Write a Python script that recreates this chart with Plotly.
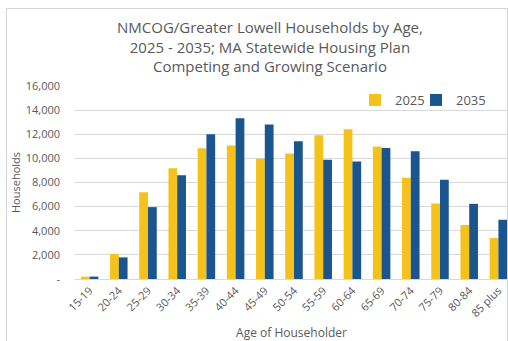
import plotly.graph_objects as go

# Age-of-householder groups and household counts per scenario year
age_groups = ["15-19", "20-24", "25-29", "30-34", "35-39", "40-44", "45-49",
              "50-54", "55-59", "60-64", "65-69", "70-74", "75-79", "80-84", "85 plus"]
households_2025 = [190, 2070, 7200, 9190, 10840, 11060, 9960,
                   10400, 11920, 12420, 10980, 8390, 6260, 4470, 3390]
households_2035 = [200, 1790, 5960, 8610, 12000, 13330, 12800,
                   11420, 9880, 9740, 10870, 10600, 8220, 6230, 4910]

y_tick_vals = [0, 2000, 4000, 6000, 8000, 10000, 12000, 14000, 16000]
y_tick_text = ["-", "2,000", "4,000", "6,000", "8,000", "10,000", "12,000", "14,000", "16,000"]

YELLOW = "#F5C21B"
BLUE = "#1A5590"
GRAY_TEXT = "#595959"
GRID = "#D9D9D9"
FONT = "Open Sans"

W, H = 508, 341
L, R, T, B = 75, 0, 86, 62
plot_w = W - L - R
plot_h = H - T - B


def px_x(x):
    return (x - L) / plot_w


def px_y(y):
    return (H - B - y) / plot_h


def legend_box(left_px):
    return dict(
        orientation="h", x=px_x(left_px), xanchor="left", y=px_y(100), yanchor="middle",
        font=dict(family=FONT, size=13, color=GRAY_TEXT),
        bgcolor="rgba(0,0,0,0)", itemclick=False, visible=True,
    )


fig = go.Figure()
fig.add_trace(go.Bar(name="2025", x=age_groups, y=households_2025, showlegend=True,
                     marker=dict(color=YELLOW, line=dict(width=0)), legend="legend2"))
fig.add_trace(go.Bar(name="2035", x=age_groups, y=households_2035, showlegend=True,
                     marker=dict(color=BLUE, line=dict(width=0)), legend="legend3"))

fig.update_layout(
    width=W, height=H,
    margin=dict(l=L, r=R, t=T, b=B, pad=0, autoexpand=False),
    paper_bgcolor="white", plot_bgcolor="white",
    font=dict(family=FONT, color=GRAY_TEXT, size=11),
    barmode="group", bargap=0.4, bargroupgap=0,
    showlegend=True,
    legend2=legend_box(355),
    legend3=legend_box(416),
    xaxis=dict(
        range=[-0.5, -0.5 + plot_w / 29.2],
        tickangle=-45, showgrid=False,
        showline=True, linecolor=GRID, linewidth=1,
        ticks="", tickfont=dict(size=11, color=GRAY_TEXT),
        title=dict(text="Age of Householder", font=dict(size=12, color=GRAY_TEXT), standoff=10),
    ),
    yaxis=dict(
        range=[0, 16000], tickvals=y_tick_vals, ticktext=y_tick_text,
        showgrid=True, gridcolor=GRID, gridwidth=1, zeroline=False,
        ticks="", ticklabelstandoff=14,
        tickfont=dict(size=11, color=GRAY_TEXT),
        title=dict(text="Households", font=dict(size=11, color=GRAY_TEXT), standoff=2),
    ),
    shapes=[
        dict(type="rect", xref="paper", yref="paper",
             x0=px_x(6.5), x1=px_x(507.5), y0=px_y(400), y1=px_y(8.5),
             line=dict(color="#D4D4D4", width=1), fillcolor="rgba(0,0,0,0)", layer="above"),
    ],
    annotations=[
        dict(text="NMCOG/Greater Lowell Households by Age,<br>2025 - 2035; MA Statewide Housing Plan<br>Competing and Growing Scenario",
             xref="paper", yref="paper", x=px_x(270), y=px_y(15), xanchor="center", yanchor="top",
             showarrow=False, align="center",
             font=dict(family=FONT, size=15, color=GRAY_TEXT)),
    ],
)

fig.write_html("out.html")
